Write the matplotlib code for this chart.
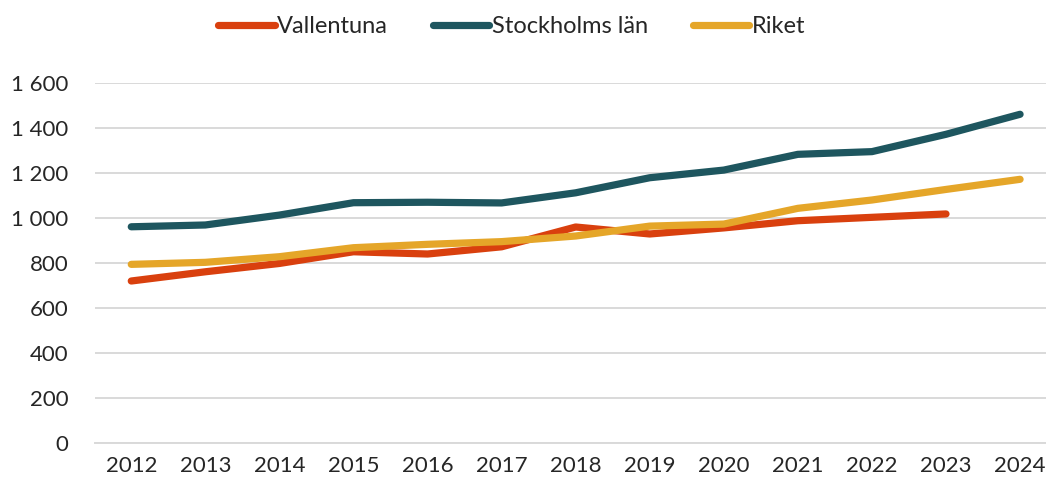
import matplotlib.pyplot as plt
from matplotlib.ticker import FuncFormatter

# =================================================
# Data
# =================================================
years = [2012, 2013, 2014, 2015, 2016, 2017, 2018,
         2019, 2020, 2021, 2022, 2023, 2024]

vallentuna = [720, 761, 798, 850, 840, 872, 960,
              929, 956, 988, 1003, 1018, None]
stockholm = [961, 969, 1013, 1068, 1070, 1067, 1112,
             1179, 1213, 1283, 1295, 1372, 1461]
riket = [794, 803, 828, 868, 883, 895, 920,
         964, 973, 1043, 1080, 1127, 1172]

series = [
    ("Vallentuna", vallentuna, "#D9400E"),
    ("Stockholms län", stockholm, "#1E565F"),
    ("Riket", riket, "#E5A629"),
]

plt.rcParams["font.family"] = ["Lato", "DejaVu Sans"]

fig = plt.figure(figsize=(10.46, 4.84), dpi=100)
ax = fig.add_axes([0.0908, 0.0847, 0.9092, 0.7438])

for name, values, color in series:
    xs = [y for y, v in zip(years, values) if v is not None]
    vs = [v for v in values if v is not None]
    ax.plot(xs, vs, color=color, linewidth=5.2, label=name,
            solid_capstyle="round", solid_joinstyle="round")

ax.set_xlim(2011.51, 2024.35)
ax.set_ylim(0, 1600)
ax.set_yticks(range(0, 1601, 200))
ax.set_xticks(years)
ax.yaxis.set_major_formatter(
    FuncFormatter(lambda v, p: f"{int(v):,}".replace(",", " "))
)

ax.grid(axis="y", color="#D9D9D9", linewidth=1.4)
ax.set_axisbelow(True)
for side in ["top", "right", "left"]:
    ax.spines[side].set_visible(False)
ax.spines["bottom"].set_color("#D9D9D9")
ax.spines["bottom"].set_linewidth(1.4)
ax.tick_params(length=0, labelsize=16, labelcolor="#262626")
ax.tick_params(axis="x", pad=9)
ax.tick_params(axis="y", pad=19)

leg = ax.legend(loc="upper center", bbox_to_anchor=(0.438, 1.245), ncol=3,
                frameon=False, fontsize=17, handlelength=2.4,
                handletextpad=0.1, columnspacing=1.9)
for t in leg.get_texts():
    t.set_color("#262626")

plt.savefig("out.png", dpi=100)
